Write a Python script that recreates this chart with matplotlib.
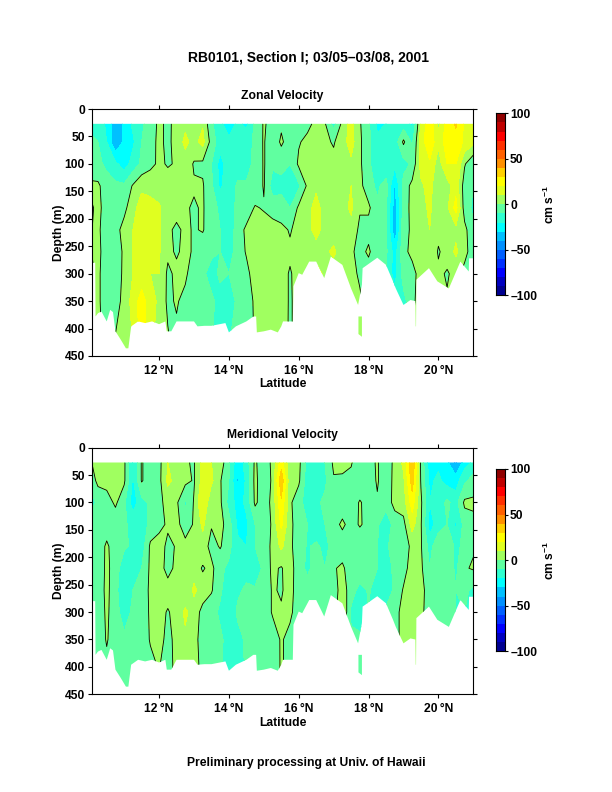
import matplotlib
matplotlib.use("Agg")
import matplotlib.pyplot as plt
from matplotlib.colors import ListedColormap, BoundaryNorm
from matplotlib.patches import PathPatch
from matplotlib.path import Path
import numpy as np

plt.rcParams['font.family'] = ['Liberation Sans', 'DejaVu Sans']
plt.rcParams['font.weight'] = 'bold'
plt.rcParams['mathtext.fontset'] = 'custom'
plt.rcParams['mathtext.rm'] = 'Liberation Sans:bold'
plt.rcParams['mathtext.bf'] = 'Liberation Sans:bold'
plt.rcParams['mathtext.default'] = 'bf'

lats = [10.0, 10.25, 10.5, 10.75, 11.0, 11.25, 11.5, 11.75, 12.0, 12.25, 12.5, 12.75, 13.0, 13.25, 13.5,
        13.75, 14.0, 14.25, 14.5, 14.75, 15.0, 15.25, 15.5, 15.75, 16.0, 16.25, 16.5, 16.75, 17.0, 17.25,
        17.5, 17.75, 18.0, 18.25, 18.5, 18.75, 19.0, 19.25, 19.5, 19.75, 20.0, 20.25, 20.5, 20.75, 21.0]
depths = [27, 60, 100, 140, 180, 220, 260, 300, 350, 440]

# zonal velocity, one list per depth (cm/s)
u_027 = [-12, -14, -22, -38, -28, -18, -12, -5, 2, -2, 3, 8, 6, 9, -8, -18, -25, -18, -22, -8, 1, -3, -2, -8, -2, -3, 3, 1, -14, 3, 14, 1, -8, -22, -20, -18, -15, -22, 12, 28, 8, 25, 31, 18, 12]
u_060 = [-8, -10, -20, -40, -28, -22, -10, -5, 3, -3, 5, 12, 7, 13, -4, -16, -18, -16, -16, -7, 1, -8, 2, -6, -1, 3, 8, 2, -1, 6, 14, 2, -8, -18, -15, -16, 2, -12, 14, 28, 12, 26, 27, 18, 12]
u_100 = [-6, -8, -12, -18, -25, -16, -8, -3, 2, -1, 1, 6, -1, -2, -10, -24, -14, -13, -13, -8, 1, -8, -8, -10, 2, 8, 3, 3, 3, 4, 8, 2, -8, -17, -18, -18, -14, -8, 14, 18, 5, 20, 20, 1, -8]
u_140 = [2, 2, -6, -8, -8, 1, 8, 8, 6, 5, 5, 2, 1, 1, -8, -22, -14, -9, -9, -8, 1, -15, -12, -18, -12, 2, 8, 3, 8, 3, 10, 3, -6, -12, -6, -32, -6, 3, 8, 14, 1, 5, 16, -5, -10]
u_180 = [-3, 3, -5, -6, -3, 7, 14, 12, 11, 6, 4, 1, -1, 1, -6, -12, -14, -8, -6, 1, -1, -4, -7, -10, 2, 6, 14, 5, 3, 6, 12, 1, 2, -8, -8, -36, -5, 3, 6, 12, 2, 8, 24, -5, -12]
u_220 = [-1, 2, -6, -4, 4, 10, 13, 15, 11, 2, -2, 2, -1, 1, -7, -10, -17, -5, 2, 4, 5, 4, 3, -1, 4, 6, 14, 6, 5, 4, 6, -2, -4, -8, -8, -38, -4, 2, 6, 10, 3, 6, 7, 3, -8]
u_260 = [-1, 3, -6, -6, 2, 10, 14, 14, 11, 2, -1, 2, -1, -7, -8, -10, -14, -6, 1, 4, 5, 5, 5, 2, 6, 6, 5, 8, 12, 4, 2, -4, 2, -8, -8, -25, -3, 3, 10, 8, -1, 4, 12, 3, -5]
u_300 = [-3, 2, -6, -5, 2, 10, 13, 10, 10, -2, 2, 2, -6, -8, -14, -8, -10, -6, -3, 5, 5, 5, 4, -1, 4, 5, 14, 8, 5, 5, 4, -2, -6, -10, -10, -25, -5, -4, 5, 6, 2, -1, 3, -3, -3]
u_350 = [-3, 2, -6, -4, 3, 14, 25, 14, 8, -2, 1, -3, -5, -7, -8, -14, -15, -8, -6, 2, 5, 6, 4, -1, 3, 4, 4, 4, 4, 4, 3, 2, -6, -8, -8, -14, -14, -2, 4, 4, 2, 1, 2, -2, -3]
u_440 = [-3, 3, -4, 2, 4, 10, 25, 12, 6, 2, -3, -6, -8, -6, -8, -22, -10, -8, -6, 1, 3, 4, 3, -1, 3, 3, 3, 3, 3, 3, 3, 2, 2, -6, -6, -8, -10, 2, 3, 3, 2, 1, 2, -2, -3]

# meridional velocity, one list per depth (cm/s)
v_027 = [-2, 5, 5, 10, 2, -20, 1, -6, -3, 10, 8, 1, -1, 14, 10, 6, -8, -28, -15, 2, -8, 3, 25, 2, 3, -14, -16, -10, 2, 5, 1, -7, -3, 1, -7, 3, 12, 40, -2, -26, -22, -28, -42, -25, -18]
v_060 = [-8, 3, 4, 6, 2, -22, 1, -6, -3, 12, 7, 3, -1, 14, 12, 1, -10, -32, -18, 3, -8, 2, 38, 2, 2, -16, -18, -12, -1, -3, -3, -8, -5, 1, -6, 3, 8, 35, -1, -22, -18, -24, -25, -12, -6]
v_100 = [-15, -8, -5, 2, -8, -25, -14, -8, -3, 4, 2, -12, 1, 20, 2, 2, -14, -24, -18, 2, -6, 3, 28, 2, -7, -14, -12, -8, -7, -6, -6, 1, -4, -1, -5, 3, 5, 25, 2, -20, -15, -8, -14, 2, 2]
v_140 = [-7, -7, -6, -7, -8, -14, -16, -7, -4, 2, 3, -5, 1, 12, 1, 4, -6, -22, -22, -10, -8, 2, 22, 2, -4, -10, -18, -10, -4, 2, -4, 1, -3, -8, -18, -5, -3, 14, 1, -25, -15, -10, -22, -6, -3]
v_180 = [-7, -7, 2, -6, -8, -12, -16, 2, 6, -3, 1, 3, 4, 6, -4, 1, -7, -18, -20, -10, -7, 3, 12, 2, -5, -11, -8, -13, -6, -6, -8, -7, -5, -10, -12, -5, -4, 2, 1, -14, -2, -3, -12, -8, -1]
v_220 = [-6, -6, 2, -4, -18, -12, -10, 2, 5, -4, 3, 3, 5, -1, 3, -8, -12, -15, -14, -20, -6, 2, -1, 6, -8, -11, -8, -10, -1, 2, -6, -1, -8, -10, -14, -8, -4, 5, 2, -10, -9, -3, -12, -1, 1]
v_260 = [-7, -7, 3, -7, -18, -10, -9, 3, 5, 5, 6, 2, 12, 5, 1, -8, -18, -12, -8, -8, -6, 1, -1, 4, -6, -8, -9, -10, -5, 5, -5, -14, -9, -14, -16, -8, 1, 1, 4, -6, -8, -8, -10, -8, -12]
v_300 = [-7, -7, 2, -6, -15, -8, -8, 2, 4, -1, 4, 12, 5, -3, -6, -12, -20, -8, -8, -8, -6, 1, 1, 2, -5, -8, -9, -8, -6, 12, -12, -15, -10, -12, -8, -3, 3, 6, 3, -6, -8, -8, -10, -10, -10]
v_350 = [-7, -7, 1, -6, -8, -7, -7, 1, 6, -5, 5, 8, 4, -5, -7, -8, -14, -14, -8, -6, -6, -5, 1, -3, -5, -6, -6, -6, -6, -6, -8, -8, -6, -6, -6, -4, 4, 8, 3, -4, -6, -6, -6, -6, -6]
v_440 = [-6, -6, -6, -6, -7, -6, -6, -7, -3, -7, 4, 5, 4, -2, -6, -8, -20, -20, -8, -12, -5, -6, 1, -3, -5, -5, -5, -5, -5, -5, -6, -6, -6, -5, -5, -4, 4, 8, 3, -4, -5, -5, -5, -5, -5]

# deepest good data along the section
bottom_lat = [10.0, 10.17, 10.18, 10.25, 10.35, 10.5, 10.6, 10.68, 10.75, 10.9, 11.05, 11.12, 11.2, 11.4, 11.6, 11.8,
              12.0, 12.18, 12.22, 12.35, 12.5, 13.0, 13.1, 13.3, 13.5, 13.9, 14.0, 14.2, 14.5, 14.7, 14.78, 14.8, 15.0,
              15.2, 15.4, 15.5, 15.55, 15.83, 15.85, 16.0, 16.1, 16.3, 16.5, 16.73, 16.92, 17.25, 17.5, 17.7, 17.81,
              17.83, 18.25, 18.5, 18.7, 18.78, 19.0, 19.2, 19.34, 19.35, 19.36, 19.37, 19.73, 19.97, 20.3, 20.63,
              20.87, 20.88, 21.0]
bottom_depth = [280, 280, 378, 372, 369, 387, 366, 370, 405, 420, 436, 436, 396, 387, 390, 387,
                392, 387, 405, 405, 387, 387, 396, 395, 395, 390, 407, 396, 387, 378, 378, 407, 405,
                402, 407, 396, 387, 387, 323, 299, 302, 278, 278, 308, 269, 284, 327, 357, 320,
                290, 271, 284, 314, 327, 357, 348, 350, 396, 396, 311, 290, 314, 327, 278,
                296, 272, 272]
island_lat = [17.71, 17.81, 17.81, 17.71]
island_depth = [378, 378, 415, 410]

band_colors = ['#000090', '#0000c0', '#0000ff', '#0030ff', '#0060ff', '#0090ff', '#00c0ff', '#00ffff', '#30ffd0', '#60ffa0',
               '#a0ff60', '#e0ff20', '#ffff00', '#ffd000', '#ff9000', '#ff6000', '#ff3000', '#ff0000', '#c00000', '#900000']
levels = [-100, -90, -80, -70, -60, -50, -40, -30, -20, -10, 0, 10, 20, 30, 40, 50, 60, 70, 80, 90, 100]
W, H = 612, 792
FS = 8.7


def px_axes(fig, x0, y0, x1, y1):
    return fig.add_axes([x0 / W, 1 - y1 / H, (x1 - x0) / W, (y1 - y0) / H])


def draw_panel(fig, rows, title, top, bottom, bar_top, bar_bottom):
    ax = px_axes(fig, 91.7, top, 473.3, bottom)
    field = np.array(rows, dtype=float)
    cmap = ListedColormap(band_colors)
    norm = BoundaryNorm(levels, cmap.N)
    cs = ax.contourf(lats, depths, field, levels=levels, cmap=cmap, norm=norm, antialiased=False)
    zero = ax.contour(lats, depths, field, levels=[0], colors='k', linewidths=0.6, antialiased=True)

    top_x = [10.0, 21.0]
    verts = [(top_x[0], 27), (top_x[1], 27)] + list(zip(bottom_lat[::-1], bottom_depth[::-1])) + [(top_x[0], 27)]
    codes = [Path.MOVETO] + [Path.LINETO] * (len(verts) - 2) + [Path.CLOSEPOLY]
    iverts = list(zip(island_lat, island_depth)) + [(island_lat[0], island_depth[0])]
    icodes = [Path.MOVETO] + [Path.LINETO] * (len(iverts) - 2) + [Path.CLOSEPOLY]
    clip = PathPatch(Path(verts + iverts, codes + icodes), transform=ax.transData, facecolor='none', edgecolor='none')
    cs.set_clip_path(clip)
    zero.set_clip_path(clip)

    ax.set_xlim(10.07, 21.0)
    ax.set_ylim(450, 0)
    ax.set_yticks([0, 50, 100, 150, 200, 250, 300, 350, 400, 450])
    ax.set_xticks([12, 14, 16, 18, 20])
    ax.set_xticklabels(['12\u2009°N', '14\u2009°N', '16\u2009°N', '18\u2009°N', '20\u2009°N'])
    ax.tick_params(top=True, right=True, direction='out', length=3, width=0.8, labelsize=FS)
    ax.tick_params(axis='x', pad=3.5)
    ax.tick_params(axis='y', pad=2)
    for s in ax.spines.values():
        s.set_linewidth(0.8)
    ax.set_xlabel('Latitude', fontsize=FS, fontweight='bold', labelpad=1)
    ax.set_ylabel('Depth (m)', fontsize=FS, fontweight='bold', labelpad=0)
    ax.set_title(title, fontsize=FS, fontweight='bold', pad=7)

    cax = px_axes(fig, 495.5, bar_top, 505, bar_bottom)
    cax.pcolormesh([0, 1], levels, np.array(levels[:-1]).reshape(-1, 1) + 5, cmap=cmap, norm=norm)
    cax.set_xticks([])
    cax.yaxis.tick_right()
    cax.set_ylim(-100, 100)
    cax.set_yticks([-100, -50, 0, 50, 100])
    cax.set_yticklabels(['\u2013100', '\u201350', '0', '50', '100'])
    cax.tick_params(direction='out', length=2.2, width=0.8, labelsize=FS, pad=1.5)
    for s in cax.spines.values():
        s.set_linewidth(0.8)
    fig.text(549 / W, 1 - (bar_top + bar_bottom) / 2 / H, 'cm s$^{-1}$', rotation=90, fontsize=FS,
             fontweight='bold', ha='center', va='center')


fig = plt.figure(figsize=(6.12, 7.92), dpi=100)
draw_panel(fig, [u_027, u_060, u_100, u_140, u_180, u_220, u_260, u_300, u_350, u_440],
           'Zonal Velocity', 109, 356, 113.3, 295.3)
draw_panel(fig, [v_027, v_060, v_100, v_140, v_180, v_220, v_260, v_300, v_350, v_440],
           'Meridional Velocity', 447.7, 694.3, 469, 651.3)
fig.text(308 / W, 1 - 57 / H, 'RB0101, Section I; 03/05\u201303/08, 2001', fontsize=10, fontweight='bold', ha='center', va='center')
fig.text(306 / W, 1 - 763 / H, 'Preliminary processing at Univ. of Hawaii', fontsize=FS, fontweight='bold', ha='center', va='center')
fig.savefig('out.png', dpi=100)
